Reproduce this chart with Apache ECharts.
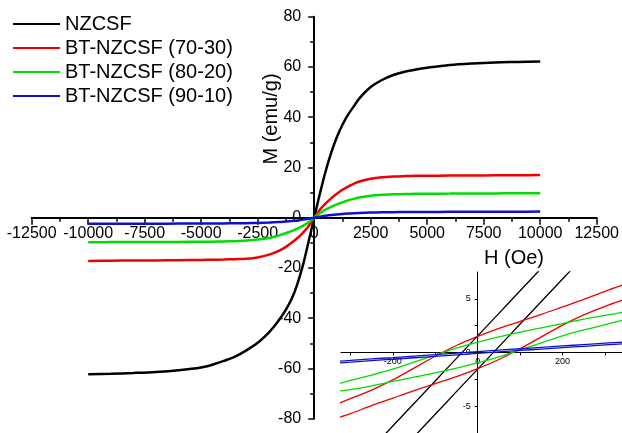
<!DOCTYPE html>
<html>
<head>
<meta charset="utf-8">
<script src="https://cdn.jsdelivr.net/npm/echarts@6/dist/echarts.min.js"></script>
<style>
html,body{margin:0;padding:0;background:#fff;}
#chart{width:622px;height:433px;}
</style>
</head>
<body>
<div id="chart"></div>
<script>
// ---- Data ----
var seriesNames = ['NZCSF', 'BT-NZCSF (70-30)', 'BT-NZCSF (80-20)', 'BT-NZCSF (90-10)'];
var seriesColors = ['#000000', '#ee0000', '#00dd00', '#1010c8'];

// Main M-H curves (field in Oe)
var hMain = [-10000,-9000,-8000,-7000,-6000,-5000,-4500,-4000,-3500,-3000,-2500,-2000,-1750,-1500,-1250,-1000,-750,-500,-250,
             0,250,500,750,1000,1250,1500,1750,2000,2500,3000,3500,4000,4500,5000,6000,7000,8000,9000,10000];
var mNZCSF = [-62.3,-62.1,-61.8,-61.4,-60.7,-59.6,-58.5,-57.0,-55.3,-52.8,-49.8,-45.6,-43.0,-40.0,-36.6,-32.4,-26.5,-19.0,-9.6,
              0,9.5,18.3,25.8,32.0,37.0,41.0,44.3,47.5,52.0,54.8,56.8,58.1,59.0,59.7,60.8,61.4,61.8,62.0,62.2];
var mBT7030 = [-17.2,-17.1,-17.05,-17.0,-16.9,-16.8,-16.75,-16.65,-16.5,-16.3,-15.8,-14.7,-13.9,-12.9,-11.6,-10.0,-8.2,-6.0,-3.4,
               0,3.2,5.6,7.7,9.5,11.1,12.4,13.5,14.4,15.5,16.1,16.4,16.55,16.65,16.7,16.75,16.8,16.85,16.9,16.95];
var mBT8020 = [-9.75,-9.72,-9.7,-9.67,-9.63,-9.58,-9.53,-9.45,-9.33,-9.12,-8.72,-8.05,-7.55,-6.95,-6.15,-5.35,-4.35,-3.25,-1.85,
               0,1.8,3.2,4.3,5.3,6.1,6.9,7.5,8.0,8.7,9.1,9.3,9.42,9.5,9.55,9.6,9.65,9.68,9.7,9.72];
var mBT9010 = [-2.45,-2.42,-2.4,-2.38,-2.35,-2.32,-2.3,-2.27,-2.22,-2.17,-2.07,-1.92,-1.8,-1.67,-1.52,-1.32,-1.07,-0.77,-0.41,
               0,0.4,0.75,1.05,1.3,1.5,1.65,1.78,1.9,2.05,2.15,2.2,2.25,2.28,2.3,2.33,2.36,2.38,2.4,2.42];

// Inset: low-field hysteresis loops (upper and lower branches)
var hInset = [-330,-300,-250,-200,-150,-100,-50,0,50,100,150,200,250,300,350];
var nzcsfUpper  = [-12.3,-11.05,-8.95,-6.85,-4.75,-2.65,-0.55,1.55,3.65,5.75,7.85,9.95,12.05,14.15,16.25];
var nzcsfLower  = [-15.4,-14.15,-12.05,-9.95,-7.85,-5.75,-3.65,-1.55,0.55,2.65,4.75,6.85,8.95,11.05,13.15];
var bt7030Upper = [-4.8,-4.3,-3.5,-2.55,-1.45,-0.35,0.65,1.5,2.25,2.9,3.55,4.25,4.95,5.7,6.4];
var bt7030Lower = [-6.1,-5.7,-4.95,-4.25,-3.55,-2.9,-2.25,-1.5,-0.65,0.35,1.45,2.55,3.5,4.3,5.0];
var bt8020Upper = [-2.95,-2.6,-2.1,-1.55,-0.9,-0.25,0.4,0.96,1.45,1.9,2.3,2.7,3.1,3.45,3.8];
var bt8020Lower = [-3.6,-3.45,-3.1,-2.7,-2.3,-1.9,-1.45,-0.96,-0.4,0.25,0.9,1.55,2.1,2.6,3.1];
var bt9010Upper = [-0.82,-0.74,-0.6,-0.47,-0.33,-0.2,-0.06,0.08,0.22,0.35,0.48,0.61,0.74,0.87,1.0];
var bt9010Lower = [-0.98,-0.9,-0.76,-0.63,-0.49,-0.36,-0.22,-0.08,0.06,0.19,0.32,0.45,0.58,0.71,0.82];

// Axis tick labels
var xTicksMain = [-12500,-10000,-7500,-5000,-2500,0,2500,5000,7500,10000,12500];
var yTicksMain = [-80,-60,-40,-20,0,20,40,60,80];
var xTicksInset = [-200,0,200];
var yTicksInset = [-5,0,5];
var xAxisTitle = 'H (Oe)';
var yAxisTitle = 'M (emu/g)';

// ---- Build chart ----
var FONT = '"Liberation Sans", Arial, sans-serif';
function pairs(xs, ys){ return xs.map(function(x,i){ return [x, ys[i]]; }); }
function plain(v){ return String(v); }

var mainSets = [mNZCSF, mBT7030, mBT8020, mBT9010];
var insetSets = [[nzcsfUpper, nzcsfLower],[bt7030Upper, bt7030Lower],[bt8020Upper, bt8020Lower],[bt9010Upper, bt9010Lower]];

var series = [];
mainSets.forEach(function(m, i){
  series.push({
    name: seriesNames[i], type: 'line', xAxisIndex: 0, yAxisIndex: 0,
    data: pairs(hMain, m), showSymbol: false, symbol: 'none', smooth: 0.3,
    lineStyle: {color: seriesColors[i], width: 2.5}, itemStyle: {color: seriesColors[i]},
    silent: true, z: 3 + i
  });
});
insetSets.forEach(function(br, i){
  ['upper','lower'].forEach(function(b, k){
    series.push({
      name: seriesNames[i] + ' inset ' + b, type: 'line', xAxisIndex: 1, yAxisIndex: 1,
      data: pairs(hInset, br[k]), showSymbol: false, symbol: 'none', smooth: 0.3,
      lineStyle: {color: seriesColors[i], width: 1.3}, itemStyle: {color: seriesColors[i]},
      clip: true, silent: true, z: 3 + i
    });
  });
});

// grid geometry
var G0 = {left: 31.7, top: 16.7, width: 565, height: 402};
var G1 = {left: 341, top: 272, width: 281, height: 161};
var xMin1 = -322, xMax1 = 340, yMin1 = -7.5, yMax1 = 7.5;

var axisLineStyle = {color: '#000', width: 2};
var option = {
  animation: false,
  backgroundColor: '#fff',
  textStyle: {fontFamily: FONT},
  legend: {
    data: seriesNames, orient: 'vertical', left: 13, top: 14, padding: 0,
    itemWidth: 47, itemHeight: 2, itemGap: 4, icon: 'rect',
    textStyle: {fontSize: 20, color: '#000', fontFamily: FONT}
  },
  grid: [
    {left: G0.left, top: G0.top, width: G0.width, height: G0.height, containLabel: false},
    {left: G1.left, top: G1.top, width: G1.width, height: G1.height, containLabel: false}
  ],
  xAxis: [
    {
      type: 'value', gridIndex: 0, min: -12500, max: 12500, interval: 2500,
      position: 'bottom', offset: -G0.height / 2,
      axisLine: {onZero: false, lineStyle: axisLineStyle},
      axisTick: {show: true, length: 7, lineStyle: {color: '#000', width: 1.5}},
      minorTick: {show: true, splitNumber: 2, length: 4, lineStyle: {color: '#000', width: 1.5}},
      axisLabel: {fontSize: 16, color: '#000', margin: 8, formatter: plain, fontFamily: FONT, showMinLabel: true, showMaxLabel: true},
      splitLine: {show: false}
    },
    {
      type: 'value', gridIndex: 1, min: xMin1, max: xMax1,
      position: 'bottom', offset: -G1.height * (0 - yMin1) / (yMax1 - yMin1),
      axisLine: {onZero: false, lineStyle: {color: '#000', width: 1}},
      axisTick: {show: true, length: 3, lineStyle: {color: '#000', width: 1}, customValues: [-300,-200,-100,100,200,300]},
      axisLabel: {fontSize: 9, color: '#000', margin: 5, customValues: xTicksInset, formatter: plain, fontFamily: FONT},
      splitLine: {show: false}
    }
  ],
  yAxis: [
    {
      type: 'value', gridIndex: 0, min: -80, max: 80, interval: 20,
      position: 'left', offset: -G0.width / 2,
      axisLine: {onZero: false, lineStyle: axisLineStyle},
      axisTick: {show: true, length: 6, lineStyle: {color: '#000', width: 1.5}},
      minorTick: {show: true, splitNumber: 2, length: 4, lineStyle: {color: '#000', width: 1.5}},
      axisLabel: {fontSize: 16, color: '#000', margin: 13, formatter: plain, fontFamily: FONT, showMinLabel: true, showMaxLabel: true},
      splitLine: {show: false}
    },
    {
      type: 'value', gridIndex: 1, min: yMin1, max: yMax1,
      position: 'left', offset: -G1.width * (0 - xMin1) / (xMax1 - xMin1),
      axisLine: {onZero: false, lineStyle: {color: '#000', width: 1}},
      axisTick: {show: true, length: 3, lineStyle: {color: '#000', width: 1}, customValues: [-5,-2.5,2.5,5]},
      axisLabel: {fontSize: 9, color: '#000', margin: 7, customValues: yTicksInset, formatter: plain, fontFamily: FONT},
      splitLine: {show: false}
    }
  ],
  graphic: [
    {type: 'text', x: 271, y: 119, rotation: Math.PI / 2,
     style: {text: yAxisTitle, fontSize: 20, fontFamily: FONT, fill: '#000', align: 'center', verticalAlign: 'middle'}},
    {type: 'text', x: 514, y: 258,
     style: {text: xAxisTitle, fontSize: 20, fontFamily: FONT, fill: '#000', align: 'center', verticalAlign: 'middle'}}
  ],
  series: series
};

var chart = echarts.init(document.getElementById('chart'), null, {renderer: 'canvas'});
chart.setOption(option);
</script>
</body>
</html>
